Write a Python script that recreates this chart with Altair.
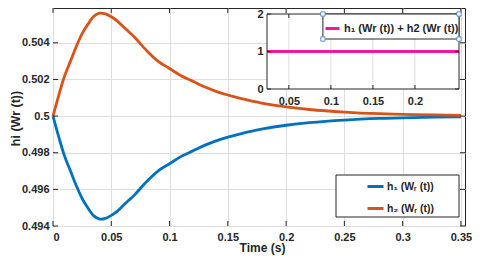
import altair as alt
import pandas as pd

# ---- data ----
t = [0, 0.005, 0.01, 0.015, 0.02, 0.025, 0.03, 0.035, 0.04, 0.045, 0.05, 0.055,
     0.06, 0.065, 0.07, 0.08, 0.09, 0.10, 0.11, 0.12, 0.13, 0.14, 0.15, 0.16,
     0.18, 0.20, 0.22, 0.25, 0.28, 0.31, 0.35]
h1 = [0.5, 0.49885, 0.4978, 0.4970, 0.4962, 0.4955, 0.49498, 0.49455, 0.49438, 0.49442,
      0.49458, 0.4948, 0.4951, 0.4954, 0.4957, 0.4964, 0.4970, 0.4974, 0.4978, 0.4981,
      0.4984, 0.49865, 0.49885, 0.49902, 0.4993, 0.4995, 0.49964, 0.49978, 0.49987,
      0.49992, 0.49996]
h2 = [0.5, 0.50115, 0.5022, 0.5030, 0.5038, 0.5045, 0.50502, 0.50545, 0.50562, 0.50558,
      0.50542, 0.5052, 0.5049, 0.5046, 0.5043, 0.5036, 0.5030, 0.5026, 0.5022, 0.5019,
      0.5016, 0.50135, 0.50115, 0.50098, 0.5007, 0.5005, 0.50036, 0.50022, 0.50013,
      0.50008, 0.50004]
x_ticks = [0, 0.05, 0.1, 0.15, 0.2, 0.25, 0.3, 0.35]
y_ticks = [0.494, 0.496, 0.498, 0.5, 0.502, 0.504]

inset_t = [0.024, 0.2524]
inset_sum = [1, 1]
inset_x_ticks = [0.05, 0.1, 0.15, 0.2]
inset_y_ticks = [0, 1, 2]

L1 = "h\u2081 (W\u1d63 (t))"
L2 = "h\u2082 (W\u1d63 (t))"
L3 = "h\u2081 (Wr (t)) + h2 (Wr (t))"

BLUE, ORANGE, MAGENTA = "#0072BD", "#D95319", "#F5179B"
FRAME, GRID = "#262626", "#dedede"
FONT = "Liberation Sans"

W, H = 412, 218
XD, YD = [0, 0.3535], [0.494, 0.5059]
IXD, IXR = [0.024, 0.2524], [214, 406]
IYD, IYR = [0, 2], [81, 6]


def xs():
    return alt.Scale(domain=XD, nice=False, zero=False)


def ys():
    return alt.Scale(domain=YD, nice=False, zero=False)


def ixs():
    return alt.Scale(domain=IXD, range=IXR, nice=False, zero=False)


def iys():
    return alt.Scale(domain=IYD, range=IYR, nice=False, zero=False)


n = len(t)
df = pd.DataFrame({"t": t + t, "v": h1 + h2, "s": [L1] * n + [L2] * n})
xt = pd.DataFrame({"v": x_ticks})
yt = pd.DataFrame({"v": y_ticks})

lines = alt.Chart(df).mark_line(strokeWidth=2.8, interpolate="catmull-rom").encode(
    x=alt.X("t:Q", scale=xs(), axis=alt.Axis(
        orient="bottom", values=x_ticks, format="~g", grid=True, gridColor=GRID,
        ticks=False, domain=False,
        labelFont=FONT, labelFontWeight="bold", labelFontSize=11, labelColor=FRAME,
        labelPadding=5, title="Time (s)", titleFont=FONT, titleFontWeight="bold",
        titleFontSize=12, titleColor=FRAME, titleX=209, titleY=21, titleBaseline="middle")),
    y=alt.Y("v:Q", scale=ys(), axis=alt.Axis(
        orient="left", values=y_ticks, format="~g", grid=True, gridColor=GRID,
        ticks=False, domain=False,
        labelFont=FONT, labelFontWeight="bold", labelFontSize=11, labelColor=FRAME,
        labelPadding=4, title="hi (Wr (t))", titleFont=FONT, titleFontWeight="bold",
        titleFontSize=12.5, titleColor=FRAME, titleX=-38, titleY=110, titleAngle=270,
        titleBaseline="middle", titleAlign="center")),
    color=alt.Color("s:N", scale=alt.Scale(domain=[L1, L2], range=[BLUE, ORANGE]),
                    legend=alt.Legend(orient="none", legendX=313, legendY=169, title=None,
                                      symbolType="stroke", symbolSize=256, symbolStrokeWidth=3,
                                      labelFont=FONT, labelFontWeight="bold", labelFontSize=10.5,
                                      labelColor=FRAME, labelOffset=2, rowPadding=6, padding=0)),
)


def rule(data, **enc):
    return alt.Chart(data).mark_rule(color=FRAME, strokeWidth=1).encode(**enc)


one = alt.Data(values=[{}])
main_leg_box = alt.Chart(one).mark_rect(fill="white", stroke=FRAME, strokeWidth=1).encode(
    x=alt.value(283), x2=alt.value(406), y=alt.value(167), y2=alt.value(209))

main_ticks = [
    rule(xt, x=alt.X("v:Q", scale=xs(), axis=None), y=alt.value(H), y2=alt.value(H - 5)),
    rule(xt, x=alt.X("v:Q", scale=xs(), axis=None), y=alt.value(0), y2=alt.value(5)),
    rule(yt, y=alt.Y("v:Q", scale=ys(), axis=None), x=alt.value(0), x2=alt.value(5)),
    rule(yt, y=alt.Y("v:Q", scale=ys(), axis=None), x=alt.value(W - 5), x2=alt.value(W)),
]

# ---- inset ----
box = pd.DataFrame({"x0": [IXD[0]], "x1": [IXD[1]], "y0": [IYD[0]], "y1": [IYD[1]]})
inset_bg = alt.Chart(box).mark_rect(fill="white").encode(
    x=alt.X("x0:Q", scale=ixs(), axis=None), x2="x1:Q",
    y=alt.Y("y0:Q", scale=iys(), axis=None), y2="y1:Q")
ixt = pd.DataFrame({"v": inset_x_ticks})
iyt = pd.DataFrame({"v": inset_y_ticks})
inset_grid = alt.Chart(ixt).mark_rule(color=GRID, strokeWidth=1).encode(
    x=alt.X("v:Q", scale=ixs(), axis=None), y=alt.value(IYR[0]), y2=alt.value(IYR[1]))
idf = pd.DataFrame({"t": inset_t, "v": inset_sum, "s": [L3] * len(inset_t)})
inset_line = alt.Chart(idf).mark_line(strokeWidth=2.8).encode(
    x=alt.X("t:Q", scale=ixs(), axis=alt.Axis(
        orient="bottom", offset=-(H - IYR[0]), values=inset_x_ticks, format="~g", grid=False,
        ticks=False, domain=False, labelFont=FONT, labelFontWeight="bold", labelFontSize=11,
        labelColor=FRAME, labelPadding=6, title=None)),
    y=alt.Y("v:Q", scale=iys(), axis=alt.Axis(
        orient="left", offset=-IXR[0], values=inset_y_ticks, format="~g", grid=False,
        ticks=False, domain=False, labelFont=FONT, labelFontWeight="bold", labelFontSize=11,
        labelColor=FRAME, labelPadding=4, title=None)),
    color=alt.Color("s:N", scale=alt.Scale(domain=[L3], range=[MAGENTA]),
                    legend=alt.Legend(orient="none", legendX=271, legendY=12, title=None,
                                      symbolType="stroke", symbolSize=196, symbolStrokeWidth=3,
                                      labelFont=FONT, labelFontWeight="bold", labelFontSize=11,
                                      labelColor=FRAME, labelOffset=3, padding=0)),
)
inset_frame = alt.Chart(box).mark_rect(fill="white", fillOpacity=0, stroke=FRAME,
                                       strokeWidth=1).encode(
    x=alt.X("x0:Q", scale=ixs(), axis=None), x2="x1:Q",
    y=alt.Y("y0:Q", scale=iys(), axis=None), y2="y1:Q")
lbox = pd.DataFrame({"x0": [0.0905], "x1": [0.2524], "y0": [1.333], "y1": [2.0]})
inset_leg_box = alt.Chart(lbox).mark_rect(fill="white", stroke=FRAME, strokeWidth=1).encode(
    x=alt.X("x0:Q", scale=ixs(), axis=None), x2="x1:Q",
    y=alt.Y("y0:Q", scale=iys(), axis=None), y2="y1:Q")
handles = pd.DataFrame({"x": [0.0905, 0.2524, 0.0905, 0.2524],
                        "y": [2.0, 2.0, 1.333, 1.333]})
inset_handles = alt.Chart(handles).mark_square(size=18, fill="white", stroke="#5b8fd0",
                                               strokeWidth=1, opacity=1).encode(
    x=alt.X("x:Q", scale=ixs(), axis=None), y=alt.Y("y:Q", scale=iys(), axis=None))
inset_ticks = [
    rule(ixt, x=alt.X("v:Q", scale=ixs(), axis=None), y=alt.value(IYR[0]),
         y2=alt.value(IYR[0] - 4)),
    rule(ixt, x=alt.X("v:Q", scale=ixs(), axis=None), y=alt.value(IYR[1]),
         y2=alt.value(IYR[1] + 4)),
    rule(iyt, y=alt.Y("v:Q", scale=iys(), axis=None), x=alt.value(IXR[0]),
         x2=alt.value(IXR[0] + 4)),
    rule(iyt, y=alt.Y("v:Q", scale=iys(), axis=None), x=alt.value(IXR[1] - 4),
         x2=alt.value(IXR[1])),
]

chart = alt.layer(
    lines, main_leg_box, *main_ticks,
    inset_bg, inset_grid, inset_line, *inset_ticks, inset_frame, inset_leg_box, inset_handles,
).resolve_scale(
    x="independent", y="independent", color="independent"
).properties(
    width=W, height=H, background="white",
    autosize=alt.AutoSizeParams(type="none"),
    padding={"left": 45, "top": 0, "right": 7, "bottom": 30},
).configure_view(stroke=FRAME, strokeWidth=1)

chart.save("out.html", embed_options={"renderer": "svg", "actions": False})
